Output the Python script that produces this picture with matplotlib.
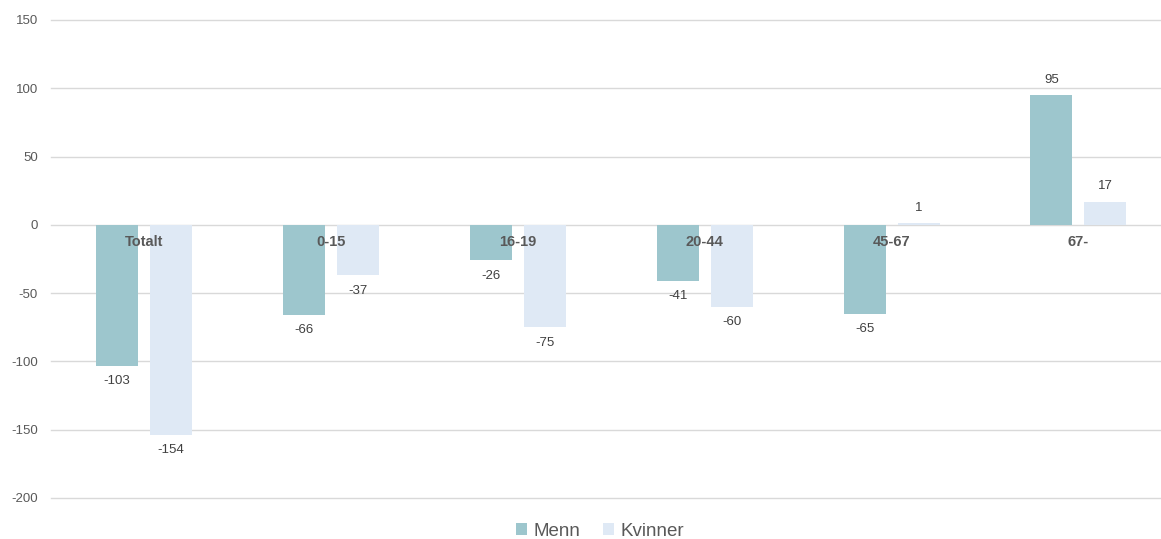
import matplotlib
matplotlib.use("Agg")
import matplotlib.pyplot as plt
import numpy as np

categories = ["Totalt", "0-15", "16-19", "20-44", "45-67", "67-"]
menn = [-103, -66, -26, -41, -65, 95]
kvinner = [-154, -37, -75, -60, 1, 17]
yticks = [-200, -150, -100, -50, 0, 50, 100, 150]

plt.rcParams['font.family'] = ['Liberation Sans', 'DejaVu Sans']
plt.rcParams['axes.unicode_minus'] = False

W, H = 1161, 539
fig = plt.figure(figsize=(W/100, H/100), dpi=100)
left_px, top_px, bot_px = 50.5, 20, 498
ax = fig.add_axes([left_px/W, (H-bot_px)/H, (W-left_px)/W, (bot_px-top_px)/H])

spacing = 186.9
x = np.arange(len(categories))
bw = 42/spacing
off = 27/spacing
c_m = "#9DC6CD"
c_k = "#DFE9F5"
bm = ax.bar(x-off, menn, bw, color=c_m, label="Menn", zorder=2)
bk = ax.bar(x+off, kvinner, bw, color=c_k, label="Kvinner", zorder=2)

ax.set_xlim(-0.5, -0.5 + (W-left_px)/spacing)
ax.set_ylim(-200, 150)
ax.set_yticks(yticks)
ax.yaxis.grid(True, color="#D9D9D9", linewidth=1, zorder=0)
for gl in ax.get_ygridlines():
    gl.set_clip_on(False)
ax.set_axisbelow(True)
for s in ax.spines.values():
    s.set_visible(False)
ax.tick_params(axis='y', length=0, pad=9, labelsize=9.5, labelcolor="#595959")
ax.set_xticks([])

for bars, vals in ((bm, menn), (bk, kvinner)):
    for b, v in zip(bars, vals):
        xc = b.get_x() + b.get_width()/2
        dy = 11 if v >= 0 else -11
        ax.annotate(str(v), (xc, v), xytext=(0, dy), textcoords="offset points",
                    ha="center", va="center", fontsize=9.5, color="#404040", zorder=4)

for xi, c in zip(x, categories):
    ax.annotate(c, (xi, 0), xytext=(0, -12.5), textcoords="offset points",
                ha="center", va="center", fontsize=10.5, fontweight="bold",
                color="#595959", zorder=5)

fig.legend(handles=[bm, bk], labels=["Menn", "Kvinner"], loc="center",
           bbox_to_anchor=(600/W, 1 - 531/H), ncol=2, frameon=False,
           fontsize=13.5, labelcolor="#595959", handlelength=0.6, handleheight=0.6,
           handletextpad=0.35, columnspacing=1.2)

fig.savefig("out.png", dpi=100)
